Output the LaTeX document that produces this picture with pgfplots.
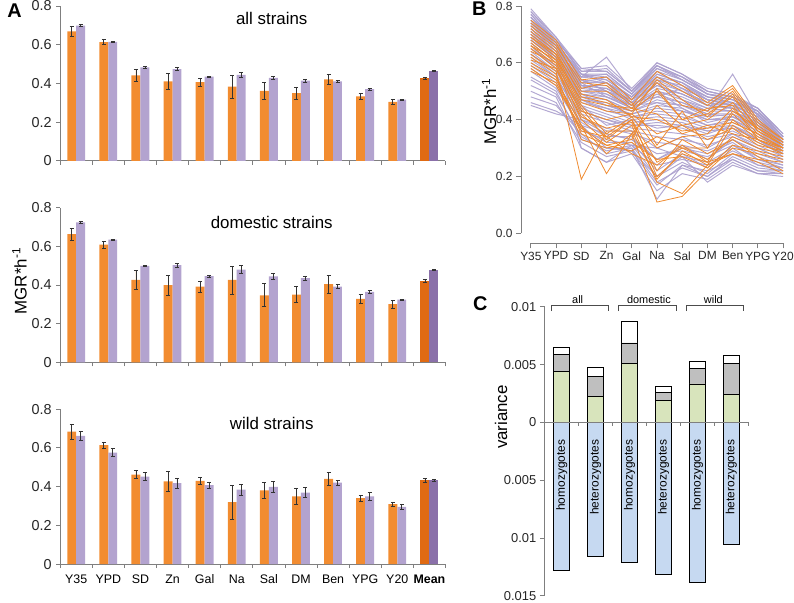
\documentclass[border=0pt]{standalone}
\usepackage{pgfplots}
\pgfplotsset{compat=1.18}
\usepackage{pgfplotstable}
\usepackage{fontspec}
\setmainfont{Liberation Sans}
\definecolor{org}{HTML}{F28C30}
\definecolor{pur}{HTML}{B3A3CF}
\definecolor{orgD}{HTML}{E06A12}
\definecolor{purD}{HTML}{8A70A9}
\definecolor{axg}{HTML}{7F7F7F}
\definecolor{lpur}{HTML}{AB9FCD}
\definecolor{lorg}{HTML}{EF8A2E}
\definecolor{cgreen}{HTML}{D8E4BC}
\definecolor{cgrey}{HTML}{BFBFBF}
\definecolor{cblue}{HTML}{C6D9F1}
\newcommand{\fs}[1]{\fontsize{#1}{#1}\selectfont}
\pgfplotsset{
  panelA/.style={
    scale only axis, width=388pt, height=156pt,
    xmin=-0.5, xmax=11.5, ymin=0, ymax=0.8,
    axis x line*=bottom, axis y line*=left,
    axis line style={draw=axg, line width=0.8pt},
    xtick={-0.5,0.5,...,11.5}, xticklabels={,,,,,,,,,,,,},
    ytick={0,0.2,0.4,0.6,0.8}, yticklabels={0,0.2,0.4,0.6,0.8},
    tick align=outside, major tick length=4pt,
    tick style={draw=axg, line width=0.8pt},
    yticklabel style={font=\fs{14.5}, text=black!85, xshift=-1pt},
    clip=false,
    ybar, bar width=9pt,
  },
  eb/.style={error bars/y dir=both, error bars/y explicit,
    error bars/error bar style={draw=black!80, line width=0.7pt},
    error bars/error mark options={rotate=90, draw=black!80, line width=0.7pt, mark size=2pt}},
  bo/.style={fill=org, draw=none, bar shift=-4.5pt, eb},
  bp/.style={fill=pur, draw=none, bar shift=4.5pt, eb},
  bod/.style={fill=orgD, draw=none, bar shift=-4.5pt, eb},
  bpd/.style={fill=purD, draw=none, bar shift=4.5pt, eb},
  cbar/.style={draw=black, line width=0.6pt, bar shift=0pt},
}
\begin{document}
\pgfplotstableread{
a b c d e f g h i j k
0.78 0.68 0.57 0.58 0.50 0.59 0.55 0.50 0.48 0.43 0.34
0.77 0.67 0.55 0.56 0.49 0.58 0.54 0.49 0.47 0.43 0.34
0.76 0.67 0.56 0.54 0.48 0.57 0.52 0.48 0.46 0.42 0.33
0.75 0.66 0.53 0.55 0.47 0.56 0.53 0.47 0.45 0.41 0.33
0.74 0.65 0.52 0.52 0.46 0.54 0.50 0.46 0.44 0.40 0.32
0.73 0.65 0.54 0.50 0.47 0.52 0.49 0.45 0.46 0.39 0.32
0.72 0.64 0.51 0.53 0.45 0.50 0.48 0.44 0.43 0.38 0.31
0.71 0.63 0.50 0.48 0.44 0.49 0.46 0.42 0.41 0.38 0.31
0.70 0.62 0.49 0.47 0.43 0.47 0.45 0.41 0.42 0.37 0.30
0.69 0.62 0.48 0.45 0.42 0.45 0.44 0.40 0.40 0.36 0.30
0.68 0.61 0.47 0.46 0.41 0.43 0.42 0.38 0.39 0.35 0.29
0.67 0.60 0.46 0.44 0.40 0.41 0.40 0.37 0.38 0.34 0.29
0.66 0.59 0.45 0.42 0.39 0.40 0.39 0.36 0.37 0.33 0.28
0.65 0.58 0.44 0.41 0.38 0.38 0.37 0.34 0.36 0.32 0.28
0.64 0.57 0.43 0.40 0.37 0.36 0.35 0.33 0.35 0.31 0.27
0.63 0.56 0.42 0.39 0.36 0.34 0.33 0.31 0.34 0.30 0.26
0.62 0.55 0.40 0.37 0.35 0.32 0.31 0.29 0.33 0.29 0.25
0.60 0.54 0.38 0.35 0.33 0.28 0.29 0.27 0.31 0.27 0.24
0.58 0.52 0.36 0.33 0.31 0.24 0.26 0.24 0.29 0.25 0.23
0.55 0.50 0.33 0.30 0.30 0.18 0.23 0.20 0.27 0.23 0.22
0.52 0.48 0.30 0.25 0.28 0.15 0.21 0.19 0.25 0.21 0.21
0.48 0.45 0.35 0.28 0.30 0.12 0.24 0.22 0.26 0.22 0.21
0.46 0.43 0.38 0.30 0.29 0.20 0.27 0.25 0.30 0.24 0.22
0.45 0.42 0.40 0.35 0.33 0.26 0.30 0.28 0.32 0.26 0.23
0.74 0.66 0.55 0.62 0.50 0.60 0.56 0.50 0.48 0.44 0.35
0.72 0.64 0.52 0.49 0.44 0.53 0.47 0.43 0.56 0.41 0.32
0.70 0.63 0.50 0.51 0.46 0.48 0.51 0.45 0.44 0.40 0.31
0.69 0.61 0.53 0.48 0.45 0.46 0.43 0.41 0.45 0.38 0.30
0.67 0.60 0.49 0.45 0.43 0.50 0.44 0.39 0.41 0.36 0.29
0.65 0.59 0.47 0.43 0.41 0.42 0.41 0.38 0.40 0.35 0.28
0.63 0.57 0.45 0.38 0.40 0.37 0.38 0.35 0.38 0.33 0.27
0.61 0.55 0.41 0.36 0.36 0.30 0.34 0.30 0.35 0.30 0.26
0.59 0.53 0.39 0.34 0.34 0.26 0.31 0.26 0.33 0.28 0.25
0.57 0.51 0.37 0.32 0.32 0.22 0.28 0.23 0.31 0.26 0.24
0.54 0.49 0.34 0.29 0.31 0.20 0.25 0.21 0.28 0.24 0.23
0.50 0.46 0.32 0.27 0.29 0.17 0.24 0.20 0.26 0.22 0.22
0.76 0.68 0.58 0.57 0.50 0.59 0.55 0.49 0.47 0.42 0.33
0.73 0.66 0.56 0.53 0.48 0.55 0.51 0.47 0.45 0.41 0.32
0.71 0.64 0.54 0.50 0.46 0.52 0.49 0.45 0.44 0.40 0.31
0.68 0.62 0.30 0.25 0.31 0.30 0.27 0.18 0.24 0.21 0.20
0.79 0.69 0.58 0.59 0.51 0.60 0.56 0.51 0.49 0.44 0.35
0.77 0.68 0.57 0.57 0.50 0.58 0.55 0.50 0.48 0.43 0.34
0.75 0.67 0.56 0.56 0.49 0.57 0.54 0.49 0.47 0.43 0.34
0.74 0.66 0.55 0.54 0.48 0.55 0.53 0.48 0.47 0.42 0.33
0.73 0.65 0.53 0.53 0.47 0.54 0.52 0.47 0.46 0.42 0.33
0.72 0.64 0.52 0.51 0.46 0.53 0.50 0.46 0.45 0.41 0.32
0.71 0.63 0.51 0.50 0.45 0.51 0.49 0.45 0.44 0.40 0.32
0.70 0.63 0.50 0.49 0.45 0.50 0.47 0.44 0.43 0.39 0.31
0.69 0.62 0.49 0.48 0.44 0.48 0.46 0.43 0.43 0.39 0.31
0.68 0.61 0.48 0.47 0.43 0.46 0.45 0.42 0.42 0.38 0.30
0.78 0.69 0.56 0.55 0.49 0.59 0.54 0.49 0.48 0.44 0.34
0.76 0.67 0.54 0.53 0.48 0.56 0.53 0.48 0.46 0.43 0.33
0.75 0.66 0.52 0.51 0.47 0.55 0.51 0.47 0.45 0.42 0.33
0.70 0.62 0.47 0.44 0.42 0.44 0.43 0.40 0.41 0.37 0.30
0.66 0.58 0.43 0.40 0.38 0.39 0.38 0.36 0.37 0.33 0.28
}\purR
\pgfplotstabletranspose\purT{\purR}
\pgfplotstableread{
a b c d e f g h i j k
0.75 0.68 0.54 0.55 0.47 0.57 0.52 0.46 0.52 0.40 0.33
0.73 0.66 0.53 0.52 0.45 0.55 0.50 0.45 0.51 0.39 0.33
0.72 0.65 0.50 0.50 0.44 0.53 0.45 0.43 0.50 0.38 0.32
0.71 0.64 0.48 0.46 0.43 0.50 0.40 0.42 0.48 0.37 0.31
0.70 0.63 0.46 0.43 0.42 0.35 0.38 0.40 0.46 0.36 0.31
0.69 0.62 0.45 0.35 0.41 0.30 0.34 0.35 0.44 0.35 0.30
0.68 0.61 0.44 0.33 0.40 0.25 0.30 0.30 0.42 0.34 0.30
0.67 0.60 0.42 0.34 0.40 0.20 0.28 0.25 0.40 0.33 0.29
0.66 0.59 0.40 0.32 0.38 0.18 0.14 0.24 0.38 0.32 0.28
0.65 0.58 0.38 0.21 0.35 0.11 0.13 0.22 0.30 0.28 0.26
0.63 0.57 0.19 0.36 0.36 0.19 0.29 0.24 0.28 0.26 0.25
0.62 0.56 0.33 0.30 0.32 0.26 0.27 0.23 0.31 0.29 0.27
0.60 0.55 0.35 0.31 0.29 0.34 0.30 0.26 0.34 0.30 0.28
0.59 0.54 0.38 0.28 0.35 0.45 0.38 0.33 0.37 0.31 0.29
0.58 0.52 0.37 0.31 0.33 0.51 0.40 0.44 0.45 0.33 0.30
0.64 0.60 0.43 0.40 0.42 0.54 0.47 0.41 0.49 0.36 0.31
0.66 0.61 0.47 0.45 0.44 0.42 0.35 0.38 0.35 0.33 0.29
0.74 0.67 0.51 0.53 0.46 0.31 0.43 0.30 0.43 0.37 0.32
0.61 0.58 0.41 0.37 0.39 0.22 0.33 0.28 0.33 0.27 0.22
0.69 0.63 0.49 0.47 0.41 0.40 0.36 0.37 0.39 0.35 0.30
0.57 0.53 0.36 0.34 0.28 0.24 0.31 0.25 0.28 0.25 0.21
}\orgR
\pgfplotstabletranspose\orgT{\orgR}
\begin{tikzpicture}
\useasboundingbox (0,0) rectangle (794pt,607pt);
% ---------- Panel A top
\begin{axis}[panelA, at={(55pt,445pt)}, anchor=south west]
\addplot[bo] coordinates {(0,0.669) +- (0,0.027) (1,0.613) +- (0,0.012) (2,0.442) +- (0,0.030) (3,0.411) +- (0,0.040) (4,0.406) +- (0,0.020) (5,0.384) +- (0,0.060) (6,0.362) +- (0,0.042) (7,0.350) +- (0,0.032) (8,0.421) +- (0,0.028) (9,0.333) +- (0,0.017) (10,0.305) +- (0,0.012)};
\addplot[bp] coordinates {(0,0.698) +- (0,0.005) (1,0.614) +- (0,0.004) (2,0.483) +- (0,0.005) (3,0.474) +- (0,0.008) (4,0.435) +- (0,0.004) (5,0.444) +- (0,0.013) (6,0.428) +- (0,0.008) (7,0.415) +- (0,0.008) (8,0.411) +- (0,0.006) (9,0.370) +- (0,0.005) (10,0.316) +- (0,0.003)};
\addplot[bod] coordinates {(11,0.428) +- (0,0.005)};
\addplot[bpd] coordinates {(11,0.464) +- (0,0.002)};
\node[font=\fs{17}] at (axis cs:6.09,0.733) {all strains};
\end{axis}
% ---------- Panel A middle
\begin{axis}[panelA, at={(55pt,242pt)}, anchor=south west]
\addplot[bo] coordinates {(0,0.663) +- (0,0.031) (1,0.609) +- (0,0.018) (2,0.426) +- (0,0.049) (3,0.400) +- (0,0.051) (4,0.391) +- (0,0.030) (5,0.426) +- (0,0.072) (6,0.347) +- (0,0.059) (7,0.350) +- (0,0.042) (8,0.405) +- (0,0.046) (9,0.328) +- (0,0.025) (10,0.301) +- (0,0.019)};
\addplot[bp] coordinates {(0,0.723) +- (0,0.005) (1,0.634) +- (0,0.004) (2,0.499) +- (0,0.005) (3,0.503) +- (0,0.010) (4,0.446) +- (0,0.005) (5,0.479) +- (0,0.020) (6,0.444) +- (0,0.015) (7,0.436) +- (0,0.010) (8,0.391) +- (0,0.010) (9,0.364) +- (0,0.006) (10,0.325) +- (0,0.002)};
\addplot[bod] coordinates {(11,0.422) +- (0,0.007)};
\addplot[bpd] coordinates {(11,0.477) +- (0,0.003)};
\node[font=\fs{17}] at (axis cs:6.09,0.723) {domestic strains};
\end{axis}
% ---------- Panel A bottom
\begin{axis}[panelA, at={(55pt,39pt)}, anchor=south west]
\addplot[bo] coordinates {(0,0.684) +- (0,0.038) (1,0.614) +- (0,0.017) (2,0.462) +- (0,0.020) (3,0.427) +- (0,0.050) (4,0.430) +- (0,0.020) (5,0.320) +- (0,0.087) (6,0.381) +- (0,0.042) (7,0.350) +- (0,0.043) (8,0.440) +- (0,0.033) (9,0.340) +- (0,0.016) (10,0.309) +- (0,0.011)};
\addplot[bp] coordinates {(0,0.662) +- (0,0.022) (1,0.575) +- (0,0.020) (2,0.451) +- (0,0.020) (3,0.418) +- (0,0.027) (4,0.408) +- (0,0.015) (5,0.384) +- (0,0.030) (6,0.399) +- (0,0.028) (7,0.369) +- (0,0.026) (8,0.420) +- (0,0.012) (9,0.350) +- (0,0.020) (10,0.295) +- (0,0.012)};
\addplot[bod] coordinates {(11,0.432) +- (0,0.010)};
\addplot[bpd] coordinates {(11,0.432) +- (0,0.006)};
\node[font=\fs{17}] at (axis cs:6.09,0.728) {wild strains};
\node[anchor=base,font=\fs{12.5}] at ([yshift=-20pt]axis cs:0,0) {Y35};
\node[anchor=base,font=\fs{12.5}] at ([yshift=-20pt]axis cs:1,0) {YPD};
\node[anchor=base,font=\fs{12.5}] at ([yshift=-20pt]axis cs:2,0) {SD};
\node[anchor=base,font=\fs{12.5}] at ([yshift=-20pt]axis cs:3,0) {Zn};
\node[anchor=base,font=\fs{12.5}] at ([yshift=-20pt]axis cs:4,0) {Gal};
\node[anchor=base,font=\fs{12.5}] at ([yshift=-20pt]axis cs:5,0) {Na};
\node[anchor=base,font=\fs{12.5}] at ([yshift=-20pt]axis cs:6,0) {Sal};
\node[anchor=base,font=\fs{12.5}] at ([yshift=-20pt]axis cs:7,0) {DM};
\node[anchor=base,font=\fs{12.5}] at ([yshift=-20pt]axis cs:8,0) {Ben};
\node[anchor=base,font=\fs{12.5}] at ([yshift=-20pt]axis cs:9,0) {YPG};
\node[anchor=base,font=\fs{12.5}] at ([yshift=-20pt]axis cs:10,0) {Y20};
\node[anchor=base,font=\bfseries\fs{12.5}] at ([yshift=-20pt]axis cs:11,0) {Mean};
\end{axis}
% ---------- Panel B
\begin{axis}[at={(519pt,362pt)}, anchor=south west, scale only axis,
  width=264pt, height=239pt,
  xmin=-0.394, xmax=10, ymin=-0.035, ymax=0.8,
  axis x line*=bottom, axis y line*=left, axis line style={draw=none},
  xtick={0,...,10}, xticklabels={Y35,YPD,SD,Zn,Gal,Na,Sal,DM,Ben,YPG,Y20},
  ytick={0,0.2,0.4,0.6,0.8}, yticklabels={0.0,0.2,0.4,0.6,0.8},
  tick align=outside, major tick length=5pt,
  tick style={draw=axg, line width=0.8pt},
  ticklabel style={font=\fs{12}, text=black!85},
  clip=false]
\pgfplotsinvokeforeach{1,...,55}{
  \addplot[lpur, line width=1pt, opacity=0.9] table[x expr=\coordindex, y index=#1]{\purT};
}
\pgfplotsinvokeforeach{1,...,21}{
  \addplot[lorg, line width=0.8pt] table[x expr=\coordindex, y index=#1]{\orgT};
}
\draw[axg, line width=0.8pt] (axis cs:0,-0.035) -- (axis cs:10,-0.035);
\draw[axg, line width=0.8pt] (axis cs:-0.394,0) -- (axis cs:-0.394,0.8);
\end{axis}
% ---------- Panel C
\begin{axis}[at={(543pt,7pt)}, anchor=south west, scale only axis,
  width=205pt, height=291pt,
  xmin=-0.5, xmax=5.5, ymin=-0.015, ymax=0.01,
  axis y line*=left, axis x line=none,
  axis line style={draw=axg, line width=0.8pt},
  ytick={-0.015,-0.01,-0.005,0,0.005,0.01},
  yticklabels={0.015,0.01,0.005,0,0.005,0.01},
  scaled y ticks=false,
  tick align=outside, major tick length=5pt,
  tick style={draw=axg, line width=0.8pt},
  yticklabel style={font=\fs{13}, text=black!85},
  ybar, bar width=16pt, clip=false]
\addplot[cbar, fill=white] coordinates {(0,0.00654) (1,0.00474) (2,0.00877) (3,0.00311) (4,0.00529) (5,0.00580)};
\addplot[cbar, fill=cgrey] coordinates {(0,0.00591) (1,0.00397) (2,0.00689) (3,0.00257) (4,0.00466) (5,0.00509)};
\addplot[cbar, fill=cgreen] coordinates {(0,0.00440) (1,0.00226) (2,0.00509) (3,0.00189) (4,0.00334) (5,0.00243)};
\addplot[cbar, fill=cblue] coordinates {(0,-0.01283) (1,-0.01154) (2,-0.01209) (3,-0.01317) (4,-0.01380) (5,-0.01051)};
\draw[axg, line width=0.8pt] (axis cs:-0.5,0) -- (axis cs:5.5,0);
\draw[axg, line width=0.8pt] (axis cs:0.5,0) -- ([yshift=-4pt]axis cs:0.5,0);
\draw[axg, line width=0.8pt] (axis cs:1.5,0) -- ([yshift=-4pt]axis cs:1.5,0);
\draw[axg, line width=0.8pt] (axis cs:2.5,0) -- ([yshift=-4pt]axis cs:2.5,0);
\draw[axg, line width=0.8pt] (axis cs:3.5,0) -- ([yshift=-4pt]axis cs:3.5,0);
\draw[axg, line width=0.8pt] (axis cs:4.5,0) -- ([yshift=-4pt]axis cs:4.5,0);
\draw[axg, line width=0.8pt] (axis cs:5.5,0) -- ([yshift=-4pt]axis cs:5.5,0);
\node[rotate=90, anchor=east, font=\fs{12}] at (axis cs:0,-0.0012) {homozygotes};
\node[rotate=90, anchor=east, font=\fs{12}] at (axis cs:1,-0.0012) {heterozygotes};
\node[rotate=90, anchor=east, font=\fs{12}] at (axis cs:2,-0.0012) {homozygotes};
\node[rotate=90, anchor=east, font=\fs{12}] at (axis cs:3,-0.0012) {heterozygotes};
\node[rotate=90, anchor=east, font=\fs{12}] at (axis cs:4,-0.0012) {homozygotes};
\node[rotate=90, anchor=east, font=\fs{12}] at (axis cs:5,-0.0012) {heterozygotes};
\draw[black!70, line width=0.7pt] (axis cs:-0.32,0.00962) |- (axis cs:1.37,0.01014) -- (axis cs:1.37,0.00962);
\draw[black!70, line width=0.7pt] (axis cs:1.67,0.00962) |- (axis cs:3.39,0.01014) -- (axis cs:3.39,0.00962);
\draw[black!70, line width=0.7pt] (axis cs:3.66,0.00962) |- (axis cs:5.35,0.01014) -- (axis cs:5.35,0.00962);
\node[font=\fs{11}] at (axis cs:0.47,0.01066) {all};
\node[font=\fs{11}] at (axis cs:2.57,0.01066) {domestic};
\node[font=\fs{11}] at (axis cs:4.47,0.01066) {wild};
\end{axis}
% ---------- labels
\node[font=\bfseries\fs{20}] at (9pt,596pt) {A};
\node[font=\bfseries\fs{20}] at (477pt,598pt) {B};
\node[font=\bfseries\fs{20}] at (478pt,301pt) {C};
\node[rotate=90, font=\fs{17}] at (14pt,324pt) {MGR*h\textsuperscript{-1}};
\node[rotate=90, font=\fs{17}] at (487pt,495pt) {MGR*h\textsuperscript{-1}};
\node[rotate=90, font=\fs{17}] at (499pt,187pt) {variance};
\end{tikzpicture}
\end{document}
